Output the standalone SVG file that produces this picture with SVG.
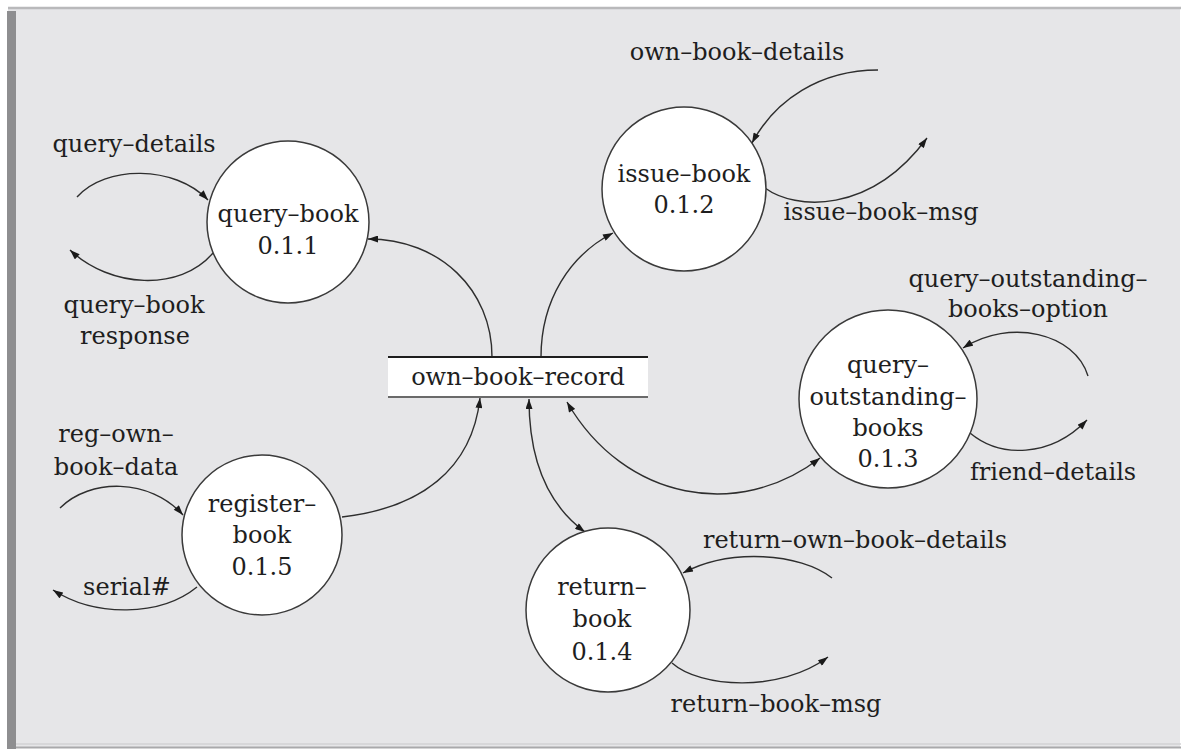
<svg xmlns="http://www.w3.org/2000/svg" width="1181" height="749" viewBox="0 0 1181 749">
<defs>
<marker id="ah" viewBox="0 0 10 7" refX="10" refY="3.5" markerWidth="11" markerHeight="7" markerUnits="userSpaceOnUse" orient="auto-start-reverse">
<path d="M0,0 L10,3.5 L0,7 z" fill="#1a1a1a"/>
</marker>
</defs>
<style>
.t{font-family:"DejaVu Serif","Liberation Serif",serif;font-size:24px;fill:#1e1e1e;text-anchor:middle}
.c{fill:#ffffff;stroke:#3a3a3a;stroke-width:1.5}
.f{fill:none;stroke:#2e2e2e;stroke-width:1.4}
.a{marker-end:url(#ah)}
.b{marker-start:url(#ah);marker-end:url(#ah)}
</style>
<rect x="0" y="0" width="1181" height="749" fill="#ffffff"/>
<rect x="8" y="8" width="1172" height="739" fill="#e6e6e8"/>
<line x1="8" y1="8" x2="1181" y2="8" stroke="#b9b9bb" stroke-width="2.5"/>
<rect x="7" y="11" width="9" height="738" fill="#8e8e90"/>
<line x1="16" y1="744" x2="1181" y2="744" stroke="#d2d2d4" stroke-width="1.5"/>
<line x1="16" y1="747.5" x2="1181" y2="747.5" stroke="#a9a9ab" stroke-width="2"/>

<g id="connectors">
<path class="f a" d="M492,357 C492,290 440,239 368,239"/>
<path class="f a" d="M541,357 C541,300 570,255 613,233"/>
<path class="f a" d="M342,517 C420,508 472,470 480,398"/>
<path class="f b" d="M529,399 C529,470 555,510 585,532"/>
<path class="f b" d="M567,402 C625,502 740,520 820,458"/>
<path class="f a" d="M77,197 C105,165 175,165 208,200"/>
<path class="f a" d="M213,253 C180,292 110,288 70,250"/>
<path class="f a" d="M878,70 C820,70 775,100 752,143"/>
<path class="f a" d="M765,188 C795,210 870,215 927,138"/>
<path class="f a" d="M1088,376 C1075,333 1010,318 963,348"/>
<path class="f a" d="M970,433 C1000,458 1050,458 1087,420"/>
<path class="f a" d="M832,578 C800,553 730,548 683,573"/>
<path class="f a" d="M672,663 C700,688 780,693 828,657"/>
<path class="f a" d="M60,508 C90,478 150,478 183,515"/>
<path class="f a" d="M197,587 C160,617 95,617 53,590"/>
</g>

<g id="store">
<rect x="388" y="357" width="260" height="40" fill="#ffffff"/>
<line x1="388" y1="357" x2="648" y2="357" stroke="#1e1e1e" stroke-width="1.8"/>
<line x1="388" y1="397" x2="648" y2="397" stroke="#6a6a6a" stroke-width="1.8"/>
<text class="t" x="518" y="385">own–book–record</text>
</g>

<g id="query-book">
<circle class="c" cx="288" cy="222" r="81"/>
<text class="t" x="288" y="222">query–book</text>
<text class="t" x="288" y="254">0.1.1</text>
</g>
<g id="issue-book">
<circle class="c" cx="684" cy="189" r="82"/>
<text class="t" x="684" y="182">issue–book</text>
<text class="t" x="684" y="213">0.1.2</text>
</g>
<g id="query-outstanding-books">
<circle class="c" cx="888" cy="399" r="89"/>
<text class="t" x="888" y="373">query–</text>
<text class="t" x="888" y="405">outstanding–</text>
<text class="t" x="888" y="436">books</text>
<text class="t" x="888" y="467">0.1.3</text>
</g>
<g id="return-book">
<circle class="c" cx="608" cy="610" r="82"/>
<text class="t" x="602" y="595">return–</text>
<text class="t" x="602" y="627">book</text>
<text class="t" x="602" y="660">0.1.4</text>
</g>
<g id="register-book">
<circle class="c" cx="262" cy="535" r="80"/>
<text class="t" x="262" y="512">register–</text>
<text class="t" x="262" y="543">book</text>
<text class="t" x="262" y="575">0.1.5</text>
</g>

<g id="labels">
<text class="t" x="134" y="152">query–details</text>
<text class="t" x="134" y="313">query–book</text>
<text class="t" x="135" y="344">response</text>
<text class="t" x="737" y="60">own–book–details</text>
<text class="t" x="881" y="220">issue–book–msg</text>
<text class="t" x="1028" y="287">query–outstanding–</text>
<text class="t" x="1028" y="317">books–option</text>
<text class="t" x="1053" y="480">friend–details</text>
<text class="t" x="855" y="548">return–own–book–details</text>
<text class="t" x="776" y="712">return–book–msg</text>
<text class="t" x="116" y="442">reg–own–</text>
<text class="t" x="116" y="475">book–data</text>
<text class="t" x="127" y="595">serial#</text>
</g>
</svg>
